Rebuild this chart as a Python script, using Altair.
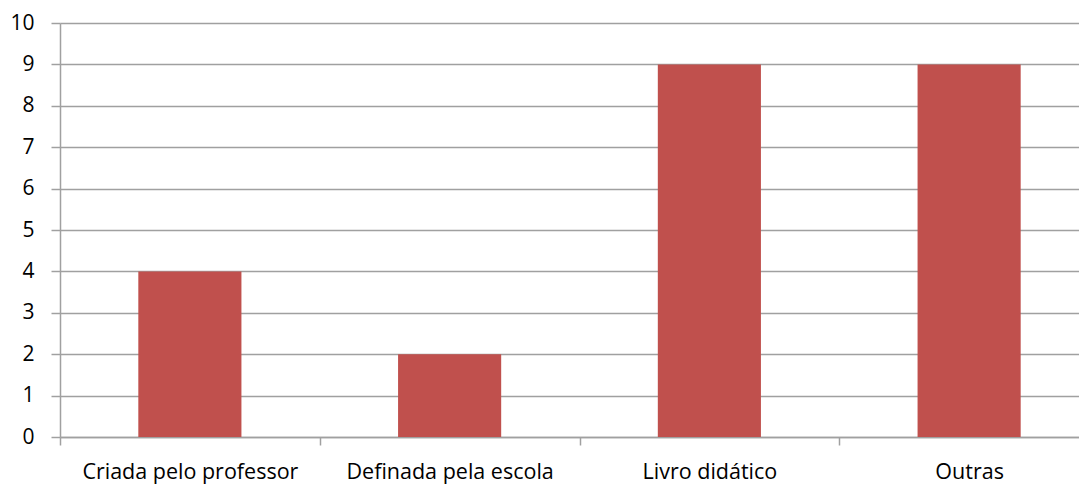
import altair as alt
import pandas as pd

categories = ["Criada pelo professor", "Definada pela escola", "Livro didático", "Outras"]
values = [4, 2, 9, 9]

df = pd.DataFrame({"cat": categories, "val": values})

chart = alt.Chart(df).mark_bar(color="#C0504D", width=alt.RelativeBandSize(0.397)).encode(
    x=alt.X("cat:N", sort=categories, title=None,
            scale=alt.Scale(paddingInner=0, paddingOuter=0, range=[0, 1039]),
            axis=alt.Axis(labelAngle=0, tickBand="extent", labelFontSize=21.5,
                          labelFont="Open Sans", labelColor="#000000", labelLimit=0,
                          domainColor="#A0A0A0", tickColor="#A0A0A0", domainWidth=1.5,
                          tickWidth=1.5, tickSize=8, labelPadding=16, grid=False)),
    y=alt.Y("val:Q", title=None,
            scale=alt.Scale(domain=[0, 10], nice=False),
            axis=alt.Axis(values=list(range(0, 11)), labelFontSize=21,
                          labelFont="Open Sans", labelColor="#000000",
                          domainColor="#A0A0A0", tickColor="#A0A0A0", domainWidth=1.5,
                          gridColor="#A0A0A0", gridWidth=1.5, tickWidth=1.5,
                          tickSize=9, labelPadding=17)),
).properties(
    width=1019, height=414,
    autosize=alt.AutoSizeParams(type="none"),
    padding={"left": 52, "top": 15, "right": 0, "bottom": 58},
).configure_view(stroke=None)

chart.save("out.html", embed_options={"renderer": "svg", "actions": False})
